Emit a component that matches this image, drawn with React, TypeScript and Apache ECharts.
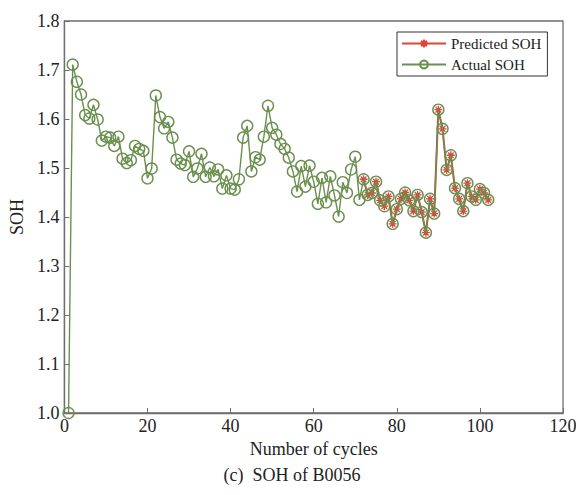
import React, { useEffect, useRef } from "react";
import * as echarts from "echarts";

// Actual SOH, cycles 1..102
const actualSOH: number[] = [
  1.000, 1.711, 1.676, 1.650, 1.608, 1.601, 1.629, 1.599, 1.556, 1.564,
  1.562, 1.545, 1.564, 1.519, 1.510, 1.516, 1.545, 1.539, 1.535, 1.479,
  1.499, 1.648, 1.604, 1.581, 1.594, 1.562, 1.517, 1.509, 1.506, 1.534,
  1.482, 1.499, 1.529, 1.482, 1.501, 1.483, 1.497, 1.458, 1.485, 1.458,
  1.456, 1.477, 1.562, 1.586, 1.493, 1.522, 1.517, 1.564, 1.627, 1.582,
  1.568, 1.549, 1.539, 1.521, 1.493, 1.452, 1.504, 1.462, 1.505, 1.472,
  1.427, 1.480, 1.430, 1.483, 1.444, 1.401, 1.471, 1.449, 1.497, 1.523,
  1.435, 1.477, 1.445, 1.449, 1.472, 1.434, 1.422, 1.442, 1.386, 1.416,
  1.437, 1.450, 1.434, 1.412, 1.445, 1.410, 1.368, 1.437, 1.407, 1.619,
  1.580, 1.496, 1.526, 1.459, 1.437, 1.412, 1.469, 1.442, 1.435, 1.457,
  1.449, 1.435,
];

// Predicted SOH, cycles 72..102
const predStartCycle = 72;
const predictedSOH: number[] = [
  1.477, 1.445, 1.449, 1.472, 1.434, 1.422, 1.442, 1.386, 1.416,
  1.437, 1.450, 1.434, 1.412, 1.445, 1.410, 1.368, 1.437, 1.407, 1.619,
  1.580, 1.496, 1.526, 1.459, 1.437, 1.412, 1.469, 1.442, 1.435, 1.457,
  1.449, 1.435,
];

const xTicks = { min: 0, max: 120, interval: 20 };
const yTicks = { min: 1.0, max: 1.8, interval: 0.1 };

const GREEN = "#6a8f4e";
const RED = "#d8473a";
const FONT = "Liberation Serif";

const asterisk =
  "path://M5,0L5,10M0,5L10,5M1.46,1.46L8.54,8.54M1.46,8.54L8.54,1.46";

export default function App() {
  const ref = useRef<HTMLDivElement>(null);
  useEffect(() => {
    if (!ref.current) return;
    const chart = echarts.init(ref.current, null, { renderer: "svg" });
    const actualData = actualSOH.map((v, i) => [i + 1, v]);
    const predData = predictedSOH.map((v, i) => [predStartCycle + i, v]);
    chart.setOption({
      animation: false,
      backgroundColor: "#fff",
      grid: {
        left: 62,
        right: 21,
        top: 21,
        bottom: 82,
        show: true,
        borderColor: "#6e6e6e",
        borderWidth: 1.3,
      },
      legend: {
        orient: "vertical",
        left: 397,
        top: 32,
        backgroundColor: "#fff",
        borderColor: "#333",
        borderWidth: 1,
        borderRadius: 0,
        padding: [4, 6, 4, 4],
        itemGap: 6,
        itemWidth: 44,
        itemHeight: 10,
        textStyle: { fontFamily: FONT, fontSize: 15, color: "#222" },
        data: ["Predicted SOH", "Actual SOH"],
      },
      xAxis: {
        type: "value",
        min: xTicks.min,
        max: xTicks.max,
        interval: xTicks.interval,
        name: "Number of cycles",
        nameLocation: "middle",
        nameGap: 22,
        nameTextStyle: { fontFamily: FONT, fontSize: 18, color: "#222" },
        axisLine: { show: true, lineStyle: { color: "#6e6e6e", width: 1.3 } },
        axisTick: { show: true, inside: true, length: 5, lineStyle: { color: "#6e6e6e" } },
        axisLabel: { fontFamily: FONT, fontSize: 18, color: "#222", margin: 4 },
        splitLine: { show: false },
      },
      yAxis: {
        type: "value",
        min: yTicks.min,
        max: yTicks.max,
        interval: yTicks.interval,
        name: "SOH",
        nameLocation: "middle",
        nameGap: 36,
        nameTextStyle: { fontFamily: FONT, fontSize: 18, color: "#222" },
        axisLine: { show: true, lineStyle: { color: "#6e6e6e", width: 1.3 } },
        axisTick: { show: true, inside: true, length: 5, lineStyle: { color: "#6e6e6e" } },
        axisLabel: {
          fontFamily: FONT,
          fontSize: 18,
          color: "#222",
          margin: 5,
          formatter: (v: number) => v.toFixed(1),
        },
        splitLine: { show: false },
      },
      graphic: [
        {
          type: "text",
          left: "center",
          top: 466,
          style: {
            text: "(c)  SOH of B0056",
            fontFamily: FONT,
            fontSize: 18,
            fill: "#222",
          },
        },
      ],
      series: [
        {
          name: "Predicted SOH",
          type: "line",
          data: predData,
          symbol: asterisk,
          symbolSize: 8,
          lineStyle: { color: RED, width: 2 },
          itemStyle: { color: "none", borderColor: RED, borderWidth: 1.3 },
          z: 2,
        },
        {
          name: "Actual SOH",
          type: "line",
          data: actualData,
          symbol: "circle",
          symbolSize: 11,
          lineStyle: { color: GREEN, width: 1.4 },
          itemStyle: { color: "rgba(0,0,0,0)", borderColor: GREEN, borderWidth: 1.4 },
          z: 3,
        },
      ],
    });
    return () => chart.dispose();
  }, []);
  return <div ref={ref} style={{ width: 584, height: 495, margin: -8 }} />;
}
